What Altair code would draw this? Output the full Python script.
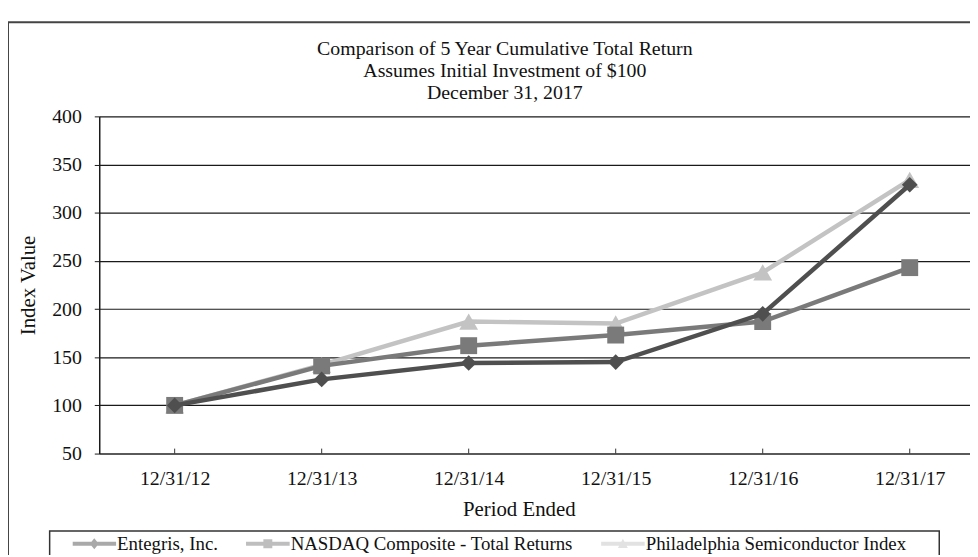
import json
import altair as alt
import pandas as pd

# ---- data ----
periods = ["12/31/12", "12/31/13", "12/31/14", "12/31/15", "12/31/16", "12/31/17"]
series_names = ["Entegris, Inc.", "NASDAQ Composite - Total Returns", "Philadelphia Semiconductor Index"]
entegris = [100, 127, 144, 145, 195, 329]
nasdaq = [100, 141, 162, 173, 187, 243]
sox = [100, 142, 187, 185, 238, 334]
y_ticks = [50, 100, 150, 200, 250, 300, 350, 400]
title_lines = ["Comparison of 5 Year Cumulative Total Return",
               "Assumes Initial Investment of $100",
               "December 31, 2017"]

values = {series_names[0]: entegris, series_names[1]: nasdaq, series_names[2]: sox}
rows = []
for s in series_names:
    for i, p in enumerate(periods):
        rows.append({"series": s, "idx": i, "period": p, "value": values[s][i]})
df = pd.DataFrame(rows)

FONT = "Liberation Serif"
W, H = 878, 340
colors = ["#4f4f4f", "#7a7a7a", "#c3c3c3"]
shapes = ["diamond", "square", "triangle-up"]
sizes = [250, 290, 360]

label_expr = json.dumps(periods) + "[round(datum.value)]"

x_enc = alt.X("idx:Q",
              scale=alt.Scale(domain=[-0.513, 5.41], nice=False, zero=False),
              axis=alt.Axis(values=list(range(len(periods))), labelExpr=label_expr,
                            title="Period Ended", grid=False, ticks=False,
                            domainColor="#5a5a5a", domainWidth=2,
                            labelPadding=15, titlePadding=10, titleX=423,
                            titleFontSize=21, labelFontSize=20))
y_enc = alt.Y("value:Q",
              scale=alt.Scale(domain=[50, 400], nice=False, zero=False),
              axis=alt.Axis(values=y_ticks, title="Index Value", grid=True,
                            gridColor="#1a1a1a", gridWidth=1.2,
                            domainColor="#1a1a1a", domainWidth=1.5,
                            tickColor="#1a1a1a", tickSize=5, labelPadding=13,
                            titlePadding=13, titleFontSize=21, labelFontSize=20))

base = alt.Chart(df)
one = pd.DataFrame({"k": [0]})

layers = []
# outer frame (decoration)
layers.append(alt.Chart(one).mark_rect(fill=None, stroke="#444444", strokeWidth=2).encode(
    x=alt.value(-92), x2=alt.value(W + 40), y=alt.value(-95), y2=alt.value(H + 200)))
# legend box (decoration)
layers.append(alt.Chart(one).mark_rect(fill=None, stroke="#333333", strokeWidth=1.5).encode(
    x=alt.value(-50), x2=alt.value(847), y=alt.value(418), y2=alt.value(H + 200)))
# title block
layers.append(alt.Chart(one).mark_text(
    text=title_lines, font=FONT, fontSize=20, color="#111111", lineHeight=22,
    align="center", baseline="top").encode(x=alt.value(409), y=alt.value(-78)))

# small inward ticks on x axis
layers.append(base.transform_filter(alt.datum.series == series_names[0]).mark_rule(
    color="#333333", strokeWidth=1).encode(x=x_enc, y=alt.value(H - 5), y2=alt.value(H)))

# data layers, drawn from bottom (SOX) to top (Entegris)
for i in [2, 1, 0]:
    s = series_names[i]
    sub = base.transform_filter(alt.datum.series == s)
    layers.append(sub.mark_line(color=colors[i], strokeWidth=4.5).encode(x=x_enc, y=y_enc))
    layers.append(sub.mark_point(shape=shapes[i], filled=True, size=sizes[i],
                                 color=colors[i], opacity=1).encode(x=x_enc, y=y_enc))

# legend-only layer (marks of size 0, only the legend shows)
leg_paths = [
    "M-2.2,-0.2 H2.2 V0.2 H-2.2 Z M0,-0.55 L0.45,0 L0,0.55 L-0.45,0 Z",
    "M-2.2,-0.2 H2.2 V0.2 H-2.2 Z M-0.45,-0.45 H0.45 V0.45 H-0.45 Z",
    "M-2.2,-0.2 H2.2 V0.2 H-2.2 Z M0,-0.5 L0.5,0.42 L-0.5,0.42 Z",
]
layers.append(base.mark_point(filled=True, size=0).encode(
    x=x_enc, y=y_enc,
    color=alt.Color("series:N", scale=alt.Scale(domain=series_names, range=colors),
                    legend=alt.Legend(title=None, orient="none", legendX=-27, legendY=421,
                                      direction="horizontal", symbolSize=400,
                                      symbolOffset=12, labelOffset=13, columnPadding=28,
                                      padding=0, symbolOpacity=1, symbolStrokeWidth=0,
                                      labelFont=FONT, labelFontSize=19, labelColor="#111111",
                                      labelLimit=500, clipHeight=20)),
    shape=alt.Shape("series:N", scale=alt.Scale(domain=series_names, range=leg_paths)),
))

chart = alt.layer(*layers).properties(
    width=W, height=H,
    autosize=alt.AutoSizeParams(type="none"),
    padding={"left": 92, "top": 107, "right": 0, "bottom": 100},
).configure(background="white").configure_axis(
    labelFont=FONT, titleFont=FONT,
    titleFontWeight="normal", labelColor="#111111", titleColor="#111111",
).configure_view(stroke=None)

chart.save("out.html", embed_options={"renderer": "svg", "actions": False})
